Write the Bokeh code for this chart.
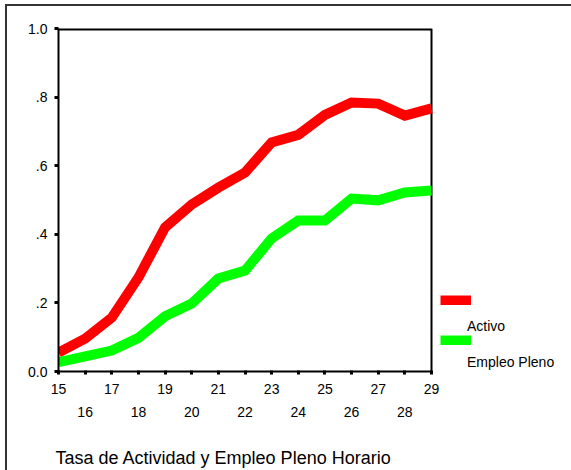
from bokeh.plotting import figure
from bokeh.models import (Range1d, FixedTicker, LinearAxis, Legend, LegendItem,
                          Title, InlineStyleSheet)
from bokeh.embed import file_html
from bokeh.resources import INLINE

# ---- data ----
edad = [15, 16, 17, 18, 19, 20, 21, 22, 23, 24, 25, 26, 27, 28, 29]
activo = [0.055, 0.096, 0.157, 0.274, 0.420, 0.487, 0.536, 0.580, 0.668,
          0.690, 0.748, 0.784, 0.781, 0.746, 0.767]
empleo_pleno = [0.027, 0.044, 0.061, 0.098, 0.161, 0.198, 0.271, 0.294,
                0.388, 0.440, 0.440, 0.504, 0.499, 0.522, 0.528]
series_names = ["Activo", "Empleo Pleno"]
y_ticks = [0.0, 0.2, 0.4, 0.6, 0.8, 1.0]
y_tick_labels = ["0.0", ".2", ".4", ".6", ".8", "1.0"]
x_ticks_odd = [15, 17, 19, 21, 23, 25, 27, 29]
x_ticks_even = [16, 18, 20, 22, 24, 26, 28]
title_text = "Tasa de Actividad y Empleo Pleno Horario"

FONT = "Liberation Sans"

# ---- layout (pixels) ----
W, H = 571, 470
BOX_L, BOX_R, BOX_T, BOX_B = 58, 431, 28, 371   # visible plot box
# the drawing frame extends to the right edge so the legend is not clipped
x_lo, x_hi = edad[0], edad[-1]
x_end = x_hi + (x_hi - x_lo) * (W - BOX_R) / (BOX_R - BOX_L)

frame_css = InlineStyleSheet(css="""
:host { position: relative; }
:host::after {
  content: ""; position: absolute; left: 5px; top: 4px;
  width: calc(100% - 5px); height: calc(100% - 4px);
  border-left: 2px solid #333; border-top: 2px solid #333;
  box-sizing: border-box; pointer-events: none;
}
""")

p = figure(width=W, height=H, output_backend="svg", toolbar_location=None,
           x_range=Range1d(x_lo, x_end), y_range=Range1d(y_ticks[0], y_ticks[-1]),
           x_axis_type=None, y_axis_type=None,
           min_border_left=BOX_L, min_border_right=0,
           min_border_top=BOX_T, min_border_bottom=H - BOX_B,
           stylesheets=[frame_css])
p.grid.visible = False
p.background_fill_color = "white"
p.border_fill_color = "white"
p.outline_line_color = None

# y axis
yaxis = LinearAxis(ticker=FixedTicker(ticks=y_ticks),
                   major_label_overrides={t: l for t, l in zip(y_ticks, y_tick_labels)})
yaxis.axis_line_color = "black"
yaxis.axis_line_width = 2
yaxis.major_tick_line_color = "black"
yaxis.major_tick_line_width = 3
yaxis.major_tick_in = 0
yaxis.major_tick_out = 4
yaxis.minor_tick_line_color = None
yaxis.major_label_standoff = 7
yaxis.major_label_text_font = FONT
yaxis.major_label_text_font_size = "14px"
yaxis.major_label_text_color = "black"
p.add_layout(yaxis, "left")

# x axis, first row (odd labels, tick at every age)
xaxis1 = LinearAxis(ticker=FixedTicker(ticks=edad), bounds=(x_lo, x_hi),
                    major_label_overrides={e: (str(e) if e in x_ticks_odd else "") for e in edad})
xaxis1.axis_line_color = "black"
xaxis1.axis_line_width = 2
xaxis1.major_tick_line_color = "black"
xaxis1.major_tick_line_width = 3
xaxis1.major_tick_in = 1
xaxis1.major_tick_out = 3
xaxis1.minor_tick_line_color = None
xaxis1.major_label_standoff = 9
xaxis1.major_label_text_font = FONT
xaxis1.major_label_text_font_size = "14px"
xaxis1.major_label_text_color = "black"
p.add_layout(xaxis1, "below")

# x axis, second row (even labels)
xaxis2 = LinearAxis(ticker=FixedTicker(ticks=x_ticks_even), bounds=(x_lo, x_hi))
xaxis2.axis_line_color = None
xaxis2.major_tick_line_color = None
xaxis2.major_tick_in = 0
xaxis2.major_tick_out = 0
xaxis2.minor_tick_line_color = None
xaxis2.major_label_standoff = 10
xaxis2.major_label_text_font = FONT
xaxis2.major_label_text_font_size = "14px"
xaxis2.major_label_text_color = "black"
p.add_layout(xaxis2, "below")

# top and right edges of the plot box
p.segment(x0=[x_lo], y0=[y_ticks[-1]], x1=[x_hi], y1=[y_ticks[-1]],
          line_color="black", line_width=4)
p.segment(x0=[x_hi], y0=[y_ticks[0]], x1=[x_hi], y1=[y_ticks[-1]],
          line_color="black", line_width=2)

# lines
r_act = p.line(edad, activo, line_color="#ff0000", line_width=10, line_join="miter")
r_emp = p.line(edad, empleo_pleno, line_color="#00ff00", line_width=10, line_join="miter")

def style_legend(lg):
    lg.spacing = 0
    lg.padding = 0
    lg.margin = 0
    lg.label_standoff = 0
    lg.label_text_font = FONT
    lg.label_text_font_size = "14px"
    lg.label_text_color = "black"
    lg.border_line_color = None
    lg.background_fill_alpha = 0

# legend swatches
legend_sw = Legend(items=[LegendItem(label=" ", renderers=[r_act]),
                          LegendItem(label=" ", renderers=[r_emp])],
                   location=(440 - BOX_L, BOX_B - 360))
style_legend(legend_sw)
legend_sw.glyph_width = 31
legend_sw.glyph_height = 10
legend_sw.label_height = 40
p.add_layout(legend_sw, "center")

# legend names, each one below and right of its swatch (as in the original)
legend_tx = Legend(items=[LegendItem(label=series_names[0], renderers=[]),
                          LegendItem(label=series_names[1], renderers=[])],
                   location=(466 - BOX_L, BOX_B - 380))
style_legend(legend_tx)
legend_tx.glyph_width = 1
legend_tx.glyph_height = 1
legend_tx.label_height = 36
p.add_layout(legend_tx, "center")

# title below
t = Title(text=title_text, align="left", offset=-3, standoff=0,
          padding=dict(left=0, right=0, top=26, bottom=0),
          text_font=FONT, text_font_size="18px", text_font_style="normal",
          text_color="black")
p.add_layout(t, "below")

open("out.html", "w").write(file_html(p, INLINE))
